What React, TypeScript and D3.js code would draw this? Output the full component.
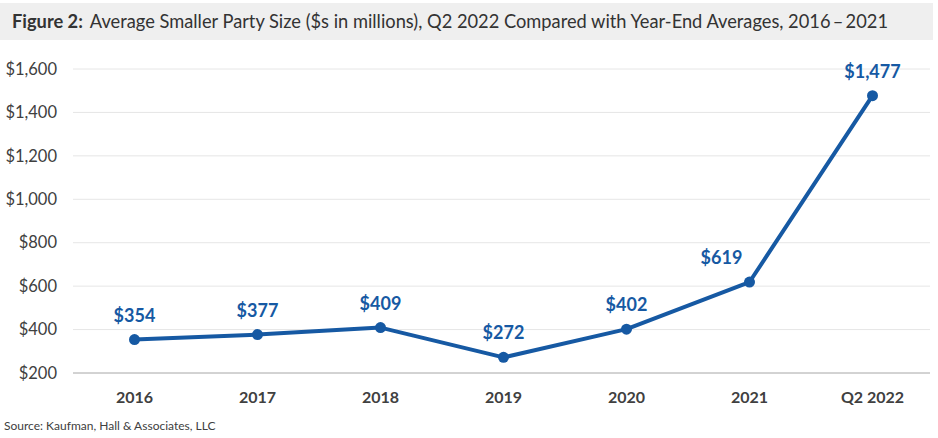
import React from 'react';
import * as d3 from 'd3';

const categories = ['2016', '2017', '2018', '2019', '2020', '2021', 'Q2 2022'];
const values = [354, 377, 409, 272, 402, 619, 1477];
const yTicks = [200, 400, 600, 800, 1000, 1200, 1400, 1600];
// label nudges where the source moved a label off the line
const labelDx = [0, 0, 0, 0, 0, -28, 0];

const WIDTH = 938,
    HEIGHT = 438;

const PLOT = {
    LEFT: 73,
    RIGHT: 934,
    TOP: 69,
    BOTTOM: 373
};

const BLUE = '#1659a3';
const FONT = 'Lato, "Open Sans", sans-serif';

const App = () => {
    const x = d3.scaleBand().domain(categories).range([PLOT.LEFT, PLOT.RIGHT]);
    const y = d3.scaleLinear().domain([200, 1600]).range([PLOT.BOTTOM, PLOT.TOP]);
    const cx = (c: string) => (x(c) as number) + x.bandwidth() / 2;

    const line = d3.line<number>()
        .x((_, i) => cx(categories[i]))
        .y(v => y(v));

    const fmt = d3.format('$,');

    return (
        <svg width={WIDTH} height={HEIGHT} style={{ position: 'absolute', left: 0, top: 0, background: '#fff' }}>
            <rect x={0} y={3} width={933} height={37} fill='#efefef' />
            <text x={12} y={28} fontFamily={FONT} fontSize={18.5} fill='#333' textLength={876} lengthAdjust='spacingAndGlyphs'>
                <tspan fontWeight='bold'>Figure 2:</tspan>
                <tspan dx={7}>{'Average Smaller Party Size ($s in millions), Q2 2022 Compared with Year-End Averages, 2016\u2009\u2013\u20092021'}</tspan>
            </text>

            {yTicks.map(t => (
                <g key={t}>
                    <line x1={PLOT.LEFT} x2={930} y1={y(t)} y2={y(t)}
                        stroke={t === 200 ? '#a6a6a6' : '#e6e6e6'} strokeWidth={1} />
                    <text x={57} y={y(t)} dy='0.35em' textAnchor='end' fontFamily={FONT} fontSize={16.5} fill='#404040'>
                        {fmt(t)}
                    </text>
                </g>
            ))}

            {categories.map(c => (
                <text key={c} x={cx(c)} y={403} textAnchor='middle' fontFamily={FONT} fontSize={16} fontWeight='bold' fill='#404040'>
                    {c}
                </text>
            ))}

            <path d={line(values) || ''} fill='none' stroke={BLUE} strokeWidth={4} strokeLinejoin='round' />
            {values.map((v, i) => (
                <g key={i}>
                    <circle cx={cx(categories[i])} cy={y(v)} r={5.5} fill={BLUE} />
                    <text x={cx(categories[i]) + labelDx[i]} y={y(v) - 18} textAnchor='middle' fontFamily={FONT} fontSize={18} fontWeight='bold' fill={BLUE}>
                        {fmt(v)}
                    </text>
                </g>
            ))}

            <text x={4} y={430} fontFamily={FONT} fontSize={12} fill='#404040'>
                Source: Kaufman, Hall &amp; Associates, LLC
            </text>
        </svg>
    );
};

export default App;
